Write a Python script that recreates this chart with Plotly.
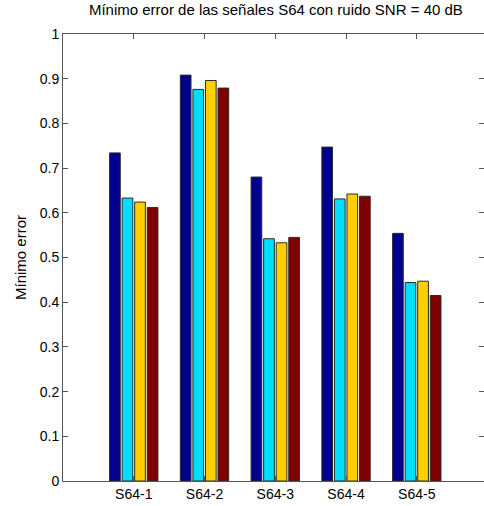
import plotly.graph_objects as go

# Minimum error per S64 signal (SNR = 40 dB), four methods per signal
categories = ["S64-1", "S64-2", "S64-3", "S64-4", "S64-5"]
serie_1 = [0.734, 0.908, 0.680, 0.747, 0.554]
serie_2 = [0.633, 0.876, 0.542, 0.631, 0.444]
serie_3 = [0.624, 0.896, 0.533, 0.642, 0.447]
serie_4 = [0.612, 0.879, 0.545, 0.637, 0.415]
y_ticks = [0, 0.1, 0.2, 0.3, 0.4, 0.5, 0.6, 0.7, 0.8, 0.9, 1]

series = [serie_1, serie_2, serie_3, serie_4]
colors = ["#00008F", "#00DFFF", "#FFCF00", "#800000"]

x_pos = list(range(1, len(categories) + 1))

fig = go.Figure()
for vals, col in zip(series, colors):
    fig.add_trace(go.Bar(
        x=x_pos, y=vals,
        marker=dict(color=col, line=dict(color="#2a2a2a", width=1)),
        showlegend=False,
    ))

font = "Liberation Sans, Arial, Helvetica, sans-serif"
axis_common = dict(
    showline=True, linecolor="#555", linewidth=1, mirror="ticks",
    ticks="inside", ticklen=5, tickcolor="#555", showgrid=False,
    zeroline=False, tickfont=dict(family=font, size=14, color="#000"),
)

fig.update_layout(
    width=484, height=506,
    margin=dict(l=63, r=0, t=34, b=25),
    paper_bgcolor="white", plot_bgcolor="white",
    barmode="group", bargap=0.29, bargroupgap=0.15,
    title=dict(text="Mínimo error de las señales S64 con ruido SNR = 40 dB",
               x=0.57, xref="container", y=1, yref="container", yanchor="top",
               pad=dict(t=4),
               font=dict(family=font, size=15, color="#000")),
    font=dict(family=font, size=14, color="#000"),
)
fig.update_xaxes(range=[0, 5.95], tickvals=x_pos, ticktext=categories, **axis_common)
fig.update_yaxes(range=[0, 1], tickvals=y_ticks, ticktext=[f"{v:g}" for v in y_ticks],
                 title=dict(text="Mínimo error", font=dict(family=font, size=15), standoff=9),
                 **axis_common)

fig.write_html("out.html")
